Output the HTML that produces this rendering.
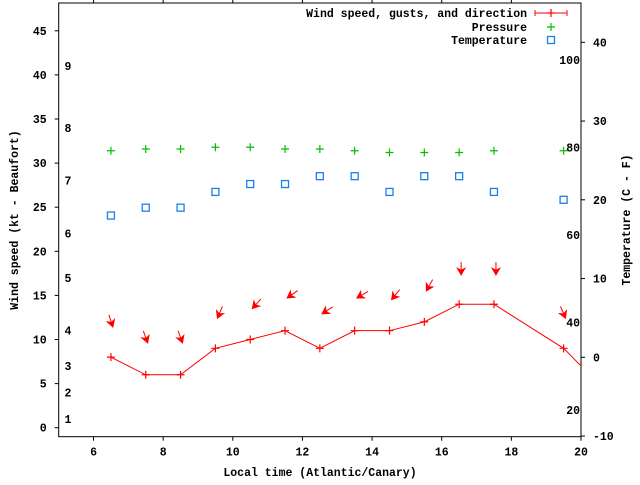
<!DOCTYPE html>
<html><head><meta charset="utf-8"><style>
html,body{margin:0;padding:0;background:#fff}
svg text{font-family:"Liberation Mono",monospace;font-weight:bold;font-size:11.5px;fill:#000}
</style></head><body>
<svg id="chart" width="640" height="480" xmlns="http://www.w3.org/2000/svg"></svg>
<script>
const times = [6.5,7.5,8.5,9.5,10.5,11.5,12.5,13.5,14.5,15.5,16.5,17.5,19.5,20.5];
const windSpeed = [8,6,6,9,10,11,9,11,11,12,14,14,9,5];
const gustTimes = [6.5,7.5,8.5,9.5,10.5,11.5,12.5,13.5,14.5,15.5,16.5,17.5,19.5];
const gusts = [11.4,9.6,9.6,12.4,13.5,14.7,12.9,14.7,14.5,15.5,17.3,17.3,12.4];
const dirDeg = [162,160,160,203,222,235,237,240,219,209,180,180,157];
const pressTimes = [6.5,7.5,8.5,9.5,10.5,11.5,12.5,13.5,14.5,15.5,16.5,17.5,19.5];
const pressure = [31.4,31.6,31.6,31.8,31.8,31.6,31.6,31.4,31.2,31.2,31.2,31.4,31.4];
const tempTimes = [6.5,7.5,8.5,9.5,10.5,11.5,12.5,13.5,14.5,15.5,16.5,17.5,19.5];
const temps = [18,19,19,21,22,22,23,23,21,23,23,21,20];
const xTicks = [6,8,10,12,14,16,18,20];
const yTicks = [0,5,10,15,20,25,30,35,40,45];
const y2Ticks = [-10,0,10,20,30,40];
const beaufortKt = [1,4,7,11,17,22,28,34,41];
const beaufortLabels = ["1","2","3","4","5","6","7","8","9"];
const fahrenheit = [20,40,60,80,100];

const L=58.7,R=581,T=3,B=436.7;
const X=t=>L+(t-5)*(R-L)/15;
const Y=v=>427.7-v*8.82;
const Y2=c=>357.3-c*7.875;
const svg=document.getElementById('chart');
const NS='http://www.w3.org/2000/svg';
function mk(tag,attrs,parent){const e=document.createElementNS(NS,tag);for(const k in attrs)e.setAttribute(k,attrs[k]);(parent||svg).appendChild(e);return e;}

// clip
const defs=mk('defs',{});
const cp=mk('clipPath',{id:'pc'},defs);
mk('rect',{x:L,y:T,width:R-L,height:B-T},cp);

// axes frame
const frame=mk('rect',{x:L,y:T,width:R-L,height:B-T,fill:'none',stroke:'#000','stroke-width':1});



// x ticks
xTicks.forEach(t=>{
  const g=mk('g',{});
  
  
  mk('line',{x1:X(t),x2:X(t),y1:B,y2:B+4,stroke:'#000'},g);
  if(t<20) mk('line',{x1:X(t),x2:X(t),y1:T,y2:T-4,stroke:'#000'},g);
  const tx=mk('text',{x:X(t),y:B+19,'text-anchor':'middle'},g);tx.textContent=t;
});
yTicks.forEach(v=>{
  const g=mk('g',{});
  
  
  mk('line',{x1:L-4,x2:L,y1:Y(v),y2:Y(v),stroke:'#000'},g);
  const tx=mk('text',{x:L-12,y:Y(v)+4,'text-anchor':'end'},g);tx.textContent=v;
});
y2Ticks.forEach(v=>{
  const g=mk('g',{});
  
  
  mk('line',{x1:R,x2:R+4,y1:Y2(v),y2:Y2(v),stroke:'#000'},g);
  const tx=mk('text',{x:R+12,y:Y2(v)+4,'text-anchor':'start'},g);tx.textContent=v;
});
beaufortKt.forEach((k,i)=>{
  const tx=mk('text',{x:68,y:Y(k)+4,'text-anchor':'middle'});
  
  
  tx.textContent=beaufortLabels[i];
});
fahrenheit.forEach(f=>{
  const tx=mk('text',{x:580,y:Y2((f-32)*5/9)+4,'text-anchor':'end'});
  
  
  tx.textContent=f;
});

// titles
let t1=mk('text',{x:320,y:476,'text-anchor':'middle'});t1.textContent='Local time (Atlantic/Canary)';

let t2=mk('text',{x:0,y:0,'text-anchor':'middle',transform:'translate(18,220) rotate(-90)'});t2.textContent='Wind speed (kt - Beaufort)';

let t3=mk('text',{x:0,y:0,'text-anchor':'middle',transform:'translate(630,220) rotate(-90)'});t3.textContent='Temperature (C - F)';


const plot=mk('g',{'clip-path':'url(#pc)'});



function plus(x,y,c,parent){mk('path',{d:`M${x-4},${y}h8M${x},${y-4}v8`,stroke:c,'stroke-width':1.2,fill:'none'},parent);}
function sq(x,y,c,parent){mk('rect',{x:x-3.5,y:y-3.5,width:7,height:7,fill:'none',stroke:c,'stroke-width':1.3},parent);}

// wind line
const wl=mk('polyline',{points:times.map((t,i)=>X(t)+','+Y(windSpeed[i])).join(' '),fill:'none',stroke:'#f00','stroke-width':1},plot);


times.forEach((t,i)=>{const g=mk('g',{},plot);
  
  
  plus(X(t),Y(windSpeed[i]),'#f00',g);});

// arrows
gustTimes.forEach((t,i)=>{
  const hx=X(t)+2,hy=Y(gusts[i]);
  const a=dirDeg[i]*Math.PI/180, ux=Math.sin(a), uy=-Math.cos(a);
  const len=13;
  const g=mk('g',{},plot);
  
  
  mk('line',{x1:hx-ux*len,y1:hy-uy*len,x2:hx,y2:hy,stroke:'#f00','stroke-width':1},g);
  const px=-uy,py=ux;
  mk('polygon',{points:`${hx},${hy} ${hx-ux*7+px*4},${hy-uy*7+py*4} ${hx-ux*5},${hy-uy*5} ${hx-ux*7-px*4},${hy-uy*7-py*4}`,fill:'#f00',stroke:'#f00','stroke-width':0.8},g);
});

// pressure
pressTimes.forEach((t,i)=>{const g=mk('g',{},plot);
  
  
  plus(X(t),Y(pressure[i]),'#00c000',g);});
// temperature
tempTimes.forEach((t,i)=>{const g=mk('g',{},plot);
  
  
  sq(X(t),Y2(temps[i]),'#1a7ff0',g);});

// legend
const lg=mk('g',{});


[['Wind speed, gusts, and direction',13],['Pressure',27],['Temperature',40]].forEach((e,i)=>{
  const tx=mk('text',{x:527,y:e[1]+4,'text-anchor':'end'},lg);tx.textContent=e[0];
  
  
});
mk('path',{d:'M535,13h32M535,10v6M567,10v6',stroke:'#f00',fill:'none'},lg);
plus(551,13,'#f00',lg);
plus(551,27,'#00c000',lg);
sq(551,40,'#1a7ff0',lg);
</script>
</body></html>
